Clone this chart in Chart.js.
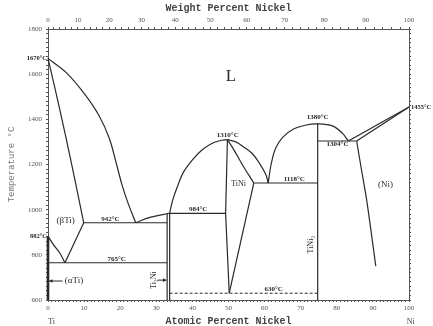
<!DOCTYPE html>
<html lang="en">
<head>
<meta charset="UTF-8">
<title>Ti-Ni Phase Diagram</title>
<script src="https://cdn.jsdelivr.net/npm/chart.js"></script>
<style>
  html, body { margin: 0; padding: 0; background: #fff; }
</style>
</head>
<body>
<canvas id="diagram" width="433" height="326"></canvas>
<script>
// phase boundaries, each point is [atomic % Ni, temperature °C]
const liquidusBeta = [[0,1670],[5,1608],[10,1515],[14,1420],[17,1315],[19,1200],[20.5,1110],[22.2,1028],[24.3,942]];
const solidusBeta = [[0,1670],[3.3,1441],[6.5,1205],[9.9,942]];
const betaTransus = [[0,882],[1.5,845],[3.3,807],[4.7,765]];
const betaSolvus = [[4.7,765],[9.9,942]];
const alphaSolvus = [[0,600],[0,882]];
const eutectic942 = [[9.9,942],[33.0,942]];
const eutectoid765 = [[0,765],[33.0,765]];
const ti2NiLeft = [[33.0,600],[33.0,984]];
const ti2NiRight = [[33.7,600],[33.7,984]];
const liquidusTi2Ni = [[24.3,942],[28.2,966],[33.7,984]];
const peritectic984 = [[33.7,984],[49.2,984]];
const liquidusTiNiLeft = [[33.7,984],[34.5,1040],[35.8,1100],[37.5,1165],[40,1220],[42.5,1262],[45,1290],[47.5,1305],[49.7,1310]];
const tiNiLeft = [[49.7,1310],[49.2,984],[50.2,630]];
const tiNiRightUpper = [[49.7,1310],[51.5,1265],[53.8,1200],[57,1118]];
const tiNiRightLower = [[57,1118],[50.2,630]];
const liquidusTiNiRight = [[49.7,1310],[52,1300],[54,1280],[56.5,1250],[58.6,1205],[60.4,1153],[61,1118]];
const eutectic1118 = [[57,1118],[74.7,1118]];
const liquidusTiNi3 = [[61,1118],[61.8,1200],[63,1270],[65,1320],[68,1357],[71.5,1375],[74.7,1380],[78.8,1371],[81.6,1338],[83.2,1304]];
const tiNi3Line = [[74.7,600],[74.7,1380]];
const eutectic1304 = [[74.7,1304],[85.5,1304]];
const liquidusNi = [[83.2,1304],[100,1455]];
const solidusNi = [[85.5,1304],[100,1455]];
const solvusNi = [[85.5,1304],[86.8,1180],[88.3,1040],[90.8,750]];
const eutectoid630 = [[33.7,630],[74.7,630]];

// tick labels
const atomicLabels = [0,10,20,30,40,50,60,70,80,90,100];
const weightLabels = [0,10,20,30,40,50,60,70,80,90,100];
const tempLabels = [600,800,1000,1200,1400,1600,1800];

// atomic masses for the weight-percent axis
const massNi = 58.69, massTi = 47.87;
function atomicFromWeight(w) {
    const ni = w / massNi, ti = (100 - w) / massTi;
    return 100 * ni / (ni + ti);
}

// minor ticks
const atomicTicks = [];
for (let i = 0; i <= 100; i++) atomicTicks.push(i);
const weightTicks = [];
for (let w = 0; w <= 100; w += 2) weightTicks.push(w);
const tempTicks = [];
for (let t = 600; t <= 1800; t += 20) tempTicks.push(t);

const ink = '#2a2a2a';
const frame = '#555';

function line(points, opts) {
    return Object.assign({
        data: points.map(p => ({ x: p[0], y: p[1] })),
        showLine: true,
        borderColor: ink,
        borderWidth: 1.2,
        pointRadius: 0,
        tension: 0,
        clip: false
    }, opts || {});
}

const curved = { tension: 0.35 };
const datasets = [
    line(liquidusBeta, { tension: 0.3 }),
    line(solidusBeta, curved),
    line(betaTransus, curved),
    line(betaSolvus),
    line(alphaSolvus, { borderWidth: 2.6 }),
    line(eutectic942),
    line(eutectoid765),
    line(ti2NiLeft),
    line(ti2NiRight),
    line(liquidusTi2Ni, curved),
    line(peritectic984),
    line(liquidusTiNiLeft, curved),
    line(tiNiLeft),
    line(tiNiRightUpper, curved),
    line(tiNiRightLower),
    line(liquidusTiNiRight, curved),
    line(eutectic1118),
    line(liquidusTiNi3, curved),
    line(tiNi3Line),
    line(eutectic1304),
    line(liquidusNi),
    line(solidusNi),
    line(solvusNi, curved),
    line(eutectoid630, { borderDash: [3, 2], borderWidth: 1 })
];

// text placed in the plot (data coordinates)
const notes = [
    { text: 'L', x: 50.7, y: 1590, size: 17 },
    { text: '(\u03b2Ti)', x: 4.9, y: 950, size: 9 },
    { text: '942\u00b0C', x: 17.3, y: 957, size: 7, bold: true },
    { text: '765\u00b0C', x: 19, y: 780, size: 7, bold: true },
    { text: '(\u03b1Ti)', x: 7.2, y: 684, size: 9 },
    { text: '984\u00b0C', x: 41.6, y: 1003, size: 7, bold: true },
    { text: '1310\u00b0C', x: 49.8, y: 1332, size: 7, bold: true },
    { text: 'TiNi', x: 52.8, y: 1112, size: 8 },
    { text: '1118\u00b0C', x: 68.2, y: 1136, size: 7, bold: true },
    { text: '1380\u00b0C', x: 74.7, y: 1410, size: 7, bold: true },
    { text: '1304\u00b0C', x: 80.2, y: 1288, size: 7, bold: true },
    { text: '(Ni)', x: 93.5, y: 1109, size: 9 },
    { text: '630\u00b0C', x: 62.5, y: 648, size: 7, bold: true },
    { text: 'Ti\u2082Ni', x: 29.2, y: 688, size: 8, rot: true },
    { text: 'TiNi\u2083', x: 72.9, y: 845, size: 8, rot: true }
];

const notePlugin = {
    id: 'notes',
    afterDraw(chart) {
        const { ctx } = chart;
        const x = chart.scales.x, y = chart.scales.y;
        ctx.save();
        ctx.fillStyle = ink;
        ctx.textBaseline = 'middle';
        notes.forEach(n => {
            ctx.font = (n.bold ? 'bold ' : '') + n.size + 'px "Liberation Serif"';
            const px = x.getPixelForValue(n.x), py = y.getPixelForValue(n.y);
            ctx.save();
            ctx.translate(px, py);
            if (n.rot) ctx.rotate(-Math.PI / 2);
            ctx.textAlign = 'center';
            ctx.fillText(n.text, 0, 0);
            ctx.restore();
        });

        // temperatures written against the side axes
        ctx.font = 'bold 6.5px "Liberation Serif"';
        ctx.textAlign = 'right';
        ctx.fillText('1670\u00b0C', x.getPixelForValue(0) - 1, y.getPixelForValue(1670));
        ctx.fillText('882\u00b0C', x.getPixelForValue(0) - 1, y.getPixelForValue(882));
        ctx.textAlign = 'left';
        ctx.fillText('1455\u00b0C', x.getPixelForValue(100) + 2, y.getPixelForValue(1455));

        // element names under the bottom axis
        ctx.font = '8px "Liberation Serif"';
        ctx.textAlign = 'center';
        ctx.fillStyle = '#444';
        ctx.fillText('Ti', x.getPixelForValue(1), x.bottom - 4);
        ctx.fillText('Ni', x.getPixelForValue(100.5), x.bottom - 4);

        // arrows to the narrow phase fields
        ctx.strokeStyle = ink;
        ctx.fillStyle = ink;
        ctx.lineWidth = 1;
        function arrow(x0, x1, t) {
            const a = x.getPixelForValue(x0), b = x.getPixelForValue(x1), py = y.getPixelForValue(t);
            const dir = b > a ? 1 : -1;
            ctx.beginPath();
            ctx.moveTo(a, py);
            ctx.lineTo(b, py);
            ctx.stroke();
            ctx.beginPath();
            ctx.moveTo(b, py);
            ctx.lineTo(b - dir * 3.5, py - 1.8);
            ctx.lineTo(b - dir * 3.5, py + 1.8);
            ctx.closePath();
            ctx.fill();
        }
        arrow(4.0, 0.3, 684);
        arrow(30.4, 32.8, 688);
        ctx.restore();
    }
};

const tickFont = { family: 'Liberation Serif', size: 7 };
const titleFont = { family: 'Liberation Mono', size: 10, weight: 'bold', lineHeight: 1 };

new Chart(document.getElementById('diagram'), {
    type: 'scatter',
    data: { datasets: datasets },
    options: {
        responsive: false,
        animation: false,
        layout: { padding: 0 },
        plugins: { legend: { display: false }, tooltip: { enabled: false } },
        scales: {
            x: {
                type: 'linear', position: 'bottom', min: 0, max: 100,
                afterBuildTicks: s => { s.ticks = atomicTicks.map(v => ({ value: v })); },
                afterFit: s => { s.height = 26; },
                ticks: {
                    autoSkip: false, maxRotation: 0, padding: 2, font: tickFont, color: '#555',
                    callback: v => atomicLabels.includes(v) ? String(v) : ''
                },
                grid: { drawOnChartArea: false, tickLength: 2, color: frame },
                border: { color: frame, width: 1, dash: [2, 1] },
                title: { display: true, text: 'Atomic Percent Nickel', font: titleFont, color: '#444', padding: { top: 0, bottom: 0 } }
            },
            x2: {
                type: 'linear', position: 'top', min: 0, max: 100,
                afterBuildTicks: s => { s.ticks = weightTicks.map(w => ({ value: atomicFromWeight(w) })); },
                afterFit: s => { s.height = 29; },
                ticks: {
                    autoSkip: false, maxRotation: 0, padding: 3, font: tickFont, color: '#555',
                    callback: (v, i) => weightLabels.includes(weightTicks[i]) ? String(weightTicks[i]) : ''
                },
                grid: { drawOnChartArea: false, tickLength: 2, color: frame },
                border: { color: frame, width: 1, dash: [2, 1] },
                title: { display: true, text: 'Weight Percent Nickel', font: titleFont, color: '#444', padding: { top: 3, bottom: 0 } }
            },
            y: {
                type: 'linear', position: 'left', min: 600, max: 1800,
                afterBuildTicks: s => { s.ticks = tempTicks.map(v => ({ value: v })); },
                afterFit: s => { s.width = 48; },
                ticks: {
                    autoSkip: false, padding: 4, font: tickFont, color: '#555',
                    callback: v => tempLabels.includes(v) ? String(v) : ''
                },
                grid: { drawOnChartArea: false, tickLength: 2, color: frame },
                border: { color: frame, width: 1, dash: [2, 1] },
                title: { display: true, text: 'Temperature \u00b0C', font: { family: 'Liberation Mono', size: 9, lineHeight: 1 }, color: '#777', padding: { top: 7, bottom: 0 } }
            },
            y2: {
                type: 'linear', position: 'right', min: 600, max: 1800,
                afterBuildTicks: s => { s.ticks = tempTicks.map(v => ({ value: v })); },
                afterFit: s => { s.width = 24; },
                ticks: { autoSkip: false, callback: () => '' },
                grid: { drawOnChartArea: false, tickLength: 2, color: frame },
                border: { color: frame, width: 1, dash: [2, 1] }
            }
        }
    },
    plugins: [notePlugin]
});
</script>
</body>
</html>
